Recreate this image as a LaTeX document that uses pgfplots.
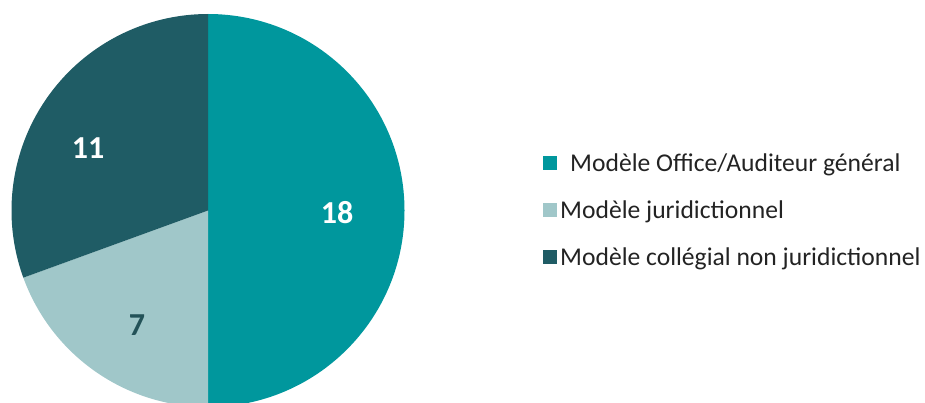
\documentclass[border=0pt]{standalone}
\usepackage{fontspec}
\setmainfont{Carlito}
\usepackage{pgfplots}
\usepackage{pgfplotstable}
\pgfplotsset{compat=1.18}
\definecolor{cA}{RGB}{0,151,157}
\definecolor{cB}{RGB}{160,199,201}
\definecolor{cC}{RGB}{31,92,101}
\definecolor{cT}{RGB}{35,82,88}
\definecolor{cL}{RGB}{35,35,35}

\pgfplotstableread{
value
18
7
11
}\piedata

\begin{document}
\begin{tikzpicture}
\pgfplotstablegetelem{0}{value}\of\piedata \edef\vA{\pgfplotsretval}
\pgfplotstablegetelem{1}{value}\of\piedata \edef\vB{\pgfplotsretval}
\pgfplotstablegetelem{2}{value}\of\piedata \edef\vC{\pgfplotsretval}
\pgfmathsetmacro\tot{\vA+\vB+\vC}
\pgfmathsetmacro\aA{90}
\pgfmathsetmacro\aB{\aA-360*\vA/\tot}
\pgfmathsetmacro\aC{\aB-360*\vB/\tot}
\pgfmathsetmacro\aD{\aC-360*\vC/\tot}
\begin{axis}[
  x=0.5pt, y=0.5pt,
  xmin=0, xmax=925, ymin=0, ymax=402,
  scale only axis,
  xtick=\empty, ytick=\empty,
  axis line style={draw=none},
  clip=true,
  legend cell align=left,
  legend image code/.code={\fill[#1] (0pt,-2pt) rectangle (6.5pt,4.5pt);},
  legend style={at={(axis description cs:0.587,0.4726)}, anchor=west,
    draw=none, fill=none, inner sep=0pt, column sep=0pt, row sep=8pt,
    font=\fontsize{12.8}{15}\selectfont, text=cL,
    nodes={inner sep=1.5pt, text height=9.5pt, text depth=3pt}},
]
\addplot[draw=none, forget plot] coordinates {(0,0) (925,402)};
\addlegendimage{cA}
\addlegendentry{\hspace{5pt}Modèle Office/Auditeur général}
\addlegendimage{cB}
\addlegendentry{Modèle juridictionnel}
\addlegendimage{cC}
\addlegendentry{Modèle collégial non juridictionnel}

\fill[cA] (axis cs:208,191.5) -- ++(\aA:98.25pt) arc[start angle=\aA, end angle=\aB, radius=98.25pt] -- cycle;
\fill[cB] (axis cs:208,191.5) -- ++(\aB:98.25pt) arc[start angle=\aB, end angle=\aC, radius=98.25pt] -- cycle;
\fill[cC] (axis cs:208,191.5) -- ++(\aC:98.25pt) arc[start angle=\aC, end angle=\aD, radius=98.25pt] -- cycle;

\node[font=\bfseries\fontsize{16}{16}\selectfont, text=white] at (axis cs:337,189) {\vA};
\node[font=\bfseries\fontsize{16}{16}\selectfont, text=cT] at (axis cs:137,77) {\vB};
\node[font=\bfseries\fontsize{16}{16}\selectfont, text=white] at (axis cs:88,254) {\vC};
\end{axis}
\end{tikzpicture}
\end{document}
